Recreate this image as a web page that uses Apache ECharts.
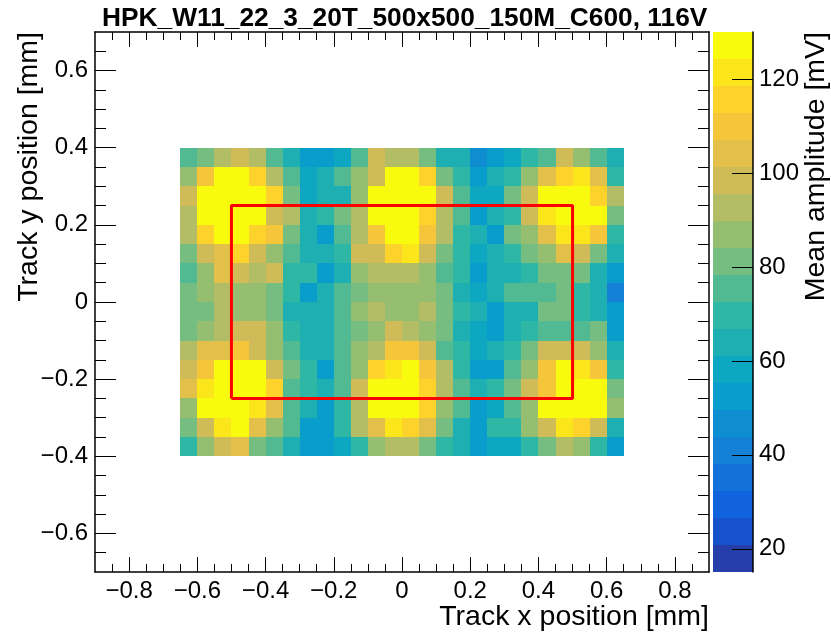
<!DOCTYPE html>
<html>
<head>
<meta charset="utf-8">
<script src="https://cdn.jsdelivr.net/npm/echarts@6/dist/echarts.min.js"></script>
<style>
  html, body { margin: 0; padding: 0; background: #fff; }
  #chart { width: 831px; height: 638px; }
</style>
</head>
<body>
<div id="chart"></div>
<script>
// histogram binning (mm)
const xLow = -0.65, yHigh = 0.4, binW = 0.05, binH = 0.05

// mean amplitude [mV], one row per y bin, top row first
const row00 = [75, 81, 93, 98, 93, 75, 64, 52, 52, 58, 75, 98, 93, 93, 81, 64, 64, 47, 52, 58, 70, 75, 98, 87, 75, 64]
const row01 = [87, 110, 127, 127, 116, 93, 75, 58, 64, 75, 87, 98, 127, 127, 116, 81, 70, 52, 64, 70, 87, 104, 116, 121, 104, 70]
const row02 = [98, 127, 127, 127, 127, 116, 81, 58, 64, 64, 87, 127, 127, 127, 127, 98, 75, 58, 58, 81, 98, 127, 127, 127, 116, 93]
const row03 = [93, 127, 127, 127, 127, 98, 93, 64, 70, 81, 93, 127, 127, 127, 116, 93, 75, 52, 64, 70, 98, 121, 127, 127, 127, 81]
const row04 = [93, 116, 127, 127, 116, 110, 81, 64, 52, 75, 93, 110, 127, 127, 110, 93, 70, 64, 52, 81, 87, 104, 121, 121, 110, 70]
const row05 = [81, 98, 104, 116, 98, 87, 75, 64, 64, 70, 98, 98, 116, 121, 98, 81, 70, 58, 64, 70, 81, 87, 104, 98, 81, 64]
const row06 = [75, 87, 104, 98, 93, 98, 70, 70, 52, 64, 87, 93, 93, 93, 87, 75, 70, 52, 64, 64, 70, 81, 81, 81, 64, 52]
const row07 = [81, 87, 93, 87, 87, 81, 70, 52, 64, 75, 81, 87, 87, 87, 87, 81, 64, 58, 64, 75, 75, 75, 81, 70, 64, 41]
const row08 = [81, 81, 93, 87, 87, 81, 64, 64, 64, 75, 87, 93, 87, 87, 93, 81, 70, 64, 52, 64, 64, 81, 81, 70, 64, 52]
const row09 = [81, 87, 93, 98, 98, 87, 70, 64, 64, 75, 81, 87, 98, 93, 87, 81, 64, 58, 52, 64, 70, 75, 75, 75, 81, 52]
const row10 = [93, 104, 104, 110, 98, 87, 75, 64, 64, 75, 87, 93, 110, 110, 98, 75, 70, 58, 64, 70, 81, 98, 98, 98, 87, 64]
const row11 = [98, 110, 127, 127, 127, 98, 81, 70, 52, 75, 87, 116, 121, 127, 110, 93, 70, 52, 52, 75, 87, 110, 127, 121, 110, 70]
const row12 = [104, 121, 127, 127, 127, 116, 75, 70, 64, 75, 98, 127, 127, 127, 116, 93, 75, 64, 70, 81, 98, 110, 127, 127, 127, 81]
const row13 = [87, 127, 127, 127, 121, 104, 75, 64, 52, 70, 93, 127, 127, 127, 116, 87, 75, 52, 58, 75, 87, 127, 127, 127, 127, 87]
const row14 = [81, 98, 121, 127, 104, 87, 75, 52, 52, 70, 93, 104, 121, 116, 104, 81, 64, 52, 70, 70, 87, 98, 121, 116, 98, 64]
const row15 = [70, 87, 98, 104, 81, 75, 64, 52, 52, 58, 70, 87, 93, 93, 81, 70, 64, 52, 58, 58, 70, 81, 93, 87, 70, 52]
const rows = [row00, row01, row02, row03, row04, row05, row06, row07,
              row08, row09, row10, row11, row12, row13, row14, row15]

// z range and contour levels of the colour scale
const zMin = 15.05, zMax = 130.05, nLevels = 20

// tick labels
const xTicks = [-0.8, -0.6, -0.4, -0.2, 0, 0.2, 0.4, 0.6, 0.8]
const yTicks = [-0.6, -0.4, -0.2, 0, 0.2, 0.4, 0.6]
const zTicks = [20, 40, 60, 80, 100, 120]

// sensor outline (red box)
const boxX = [-0.5, 0.5, 0.5, -0.5, -0.5]
const boxY = [-0.25, -0.25, 0.25, 0.25, -0.25]

// ROOT kBird palette
const birdStops = [0, 0.125, 0.25, 0.375, 0.5, 0.625, 0.75, 0.875, 1]
const birdR = [0.2082, 0.0592, 0.0780, 0.0232, 0.1802, 0.5301, 0.8186, 0.9956, 0.9764]
const birdG = [0.1664, 0.3599, 0.5041, 0.6419, 0.7178, 0.7492, 0.7328, 0.7862, 0.9832]
const birdB = [0.5293, 0.8684, 0.8385, 0.7914, 0.6425, 0.4662, 0.3499, 0.1968, 0.0539]

function bird(t) {
    let i = 0
    while (i < birdStops.length - 2 && t > birdStops[i + 1]) i++
    const f = (t - birdStops[i]) / (birdStops[i + 1] - birdStops[i])
    const c = arr => Math.round(255 * (arr[i] + f * (arr[i + 1] - arr[i])))
    return 'rgb(' + c(birdR) + ',' + c(birdG) + ',' + c(birdB) + ')'
}

const step = (zMax - zMin) / nLevels
const pieces = []
for (let i = 0; i < nLevels; i++) {
    pieces.push({
        gte: zMin + i * step,
        lt: i === nLevels - 1 ? zMax + 1 : zMin + (i + 1) * step,
        color: bird(Math.min(1, (i + 0.99) / nLevels))
    })
}

const cells = []
rows.forEach((row, r) => {
    row.forEach((v, c) => {
        cells.push([xLow + (c + 0.5) * binW, yHigh - (r + 0.5) * binH, v])
    })
})

const levels = []
for (let i = 0; i < nLevels; i++) {
    levels.push([0, zMin + i * step, zMin + (i + 0.5) * step])
}

const fontFamily = 'Liberation Sans, Arial, Helvetica, sans-serif'

function minorList(lo, hi, d) {
    const out = []
    for (let v = lo; v <= hi + 1e-9; v += d) out.push(+v.toFixed(3))
    return out
}

function fmt(v) {
    if (Math.abs(v) < 1e-9) return '0'
    const s = Math.abs(v).toFixed(1)
    return v < 0 ? '\u2212' + s : s
}

function axis(dim, pos, ticks, len, showLine, showLabels) {
    const range = dim === 'x' ? [-0.9, 0.9] : [-0.7, 0.7]
    return {
        type: 'value',
        gridIndex: 0,
        position: pos,
        min: range[0],
        max: range[1],
        z: 5,
        axisLine: { show: showLine, onZero: false, lineStyle: { color: '#000', width: 1.5 } },
        axisTick: { show: true, inside: true, length: len, customValues: ticks,
                    lineStyle: { color: '#000', width: 1 } },
        axisLabel: { show: showLabels, customValues: ticks, formatter: fmt, margin: 7,
                     color: '#000', fontSize: 24, fontFamily: fontFamily },
        splitLine: { show: false }
    }
}

const xMinor = minorList(-0.85, 0.85, 0.05)
const yMinor = minorList(-0.65, 0.65, 0.05)

const chart = echarts.init(document.getElementById('chart'))

const titleFont = '28.5px ' + fontFamily

chart.setOption({
    animation: false,
    backgroundColor: '#fff',
    textStyle: { fontFamily: fontFamily },
    title: {
        text: 'HPK_W11_22_3_20T_500x500_150M_C600, 116V',
        left: 97,
        top: 1,
        textStyle: { fontFamily: fontFamily, fontWeight: 'bold', fontSize: 26.3, color: '#000' }
    },
    grid: [
        { left: 95, right: 122, top: 32, bottom: 66 },
        { left: 713, width: 40, top: 32, bottom: 66 }
    ],
    xAxis: [
        axis('x', 'bottom', xTicks, 15, true, true),
        axis('x', 'bottom', xMinor, 8, false, false),
        axis('x', 'top', xTicks, 15, true, false),
        axis('x', 'top', xMinor, 8, false, false),
        { type: 'value', gridIndex: 1, min: 0, max: 1, show: false }
    ],
    yAxis: [
        axis('y', 'left', yTicks, 21, true, true),
        axis('y', 'left', yMinor, 11, false, false),
        axis('y', 'right', yTicks, 21, true, false),
        axis('y', 'right', yMinor, 11, false, false),
        {
            type: 'value',
            gridIndex: 1,
            position: 'right',
            min: zMin,
            max: zMax,
            z: 10,
            axisLine: { show: true, onZero: false, lineStyle: { color: '#000', width: 1.5 } },
            axisTick: { show: true, inside: true, length: 21, customValues: zTicks,
                        lineStyle: { color: '#000', width: 1 } },
            axisLabel: { customValues: zTicks, margin: 6, color: '#000', fontSize: 24,
                         fontFamily: fontFamily },
            splitLine: { show: false }
        }
    ],
    visualMap: {
        type: 'piecewise',
        show: false,
        dimension: 2,
        seriesIndex: [0, 2],
        pieces: pieces
    },
    graphic: [
        {
            type: 'text',
            x: 709,
            y: 617,
            style: {
                text: 'Track x position [mm]',
                fill: '#000',
                font: titleFont,
                textAlign: 'right',
                textVerticalAlign: 'middle'
            }
        },
        {
            type: 'text',
            x: 29,
            y: 32,
            rotation: Math.PI / 2,
            style: {
                text: 'Track y position [mm]',
                fill: '#000',
                font: titleFont,
                textAlign: 'right',
                textVerticalAlign: 'middle'
            }
        },
        {
            type: 'text',
            x: 816,
            y: 32,
            rotation: Math.PI / 2,
            style: {
                text: 'Mean amplitude [mV]',
                fill: '#000',
                font: titleFont,
                textAlign: 'right',
                textVerticalAlign: 'middle'
            }
        }
    ],
    series: [
        {
            type: 'custom',
            xAxisIndex: 0,
            yAxisIndex: 0,
            data: cells,
            encode: { x: 0, y: 1 },
            z: 2,
            renderItem: function (params, api) {
                const x = api.value(0), y = api.value(1)
                const p0 = api.coord([x - binW / 2, y + binH / 2])
                const p1 = api.coord([x + binW / 2, y - binH / 2])
                const x0 = Math.round(p0[0]), y0 = Math.round(p0[1])
                return {
                    type: 'rect',
                    shape: { x: x0, y: y0, width: Math.round(p1[0]) - x0, height: Math.round(p1[1]) - y0 },
                    style: { fill: api.visual('color') }
                }
            }
        },
        {
            type: 'line',
            xAxisIndex: 0,
            yAxisIndex: 0,
            data: boxX.map((x, i) => [x, boxY[i]]),
            symbol: 'none',
            z: 6,
            lineStyle: { color: '#ff0000', width: 3 }
        },
        {
            type: 'custom',
            xAxisIndex: 4,
            yAxisIndex: 4,
            data: levels,
            encode: { x: 0, y: 1 },
            z: 2,
            renderItem: function (params, api) {
                const lo = api.value(1)
                const p0 = api.coord([0, lo + step])
                const p1 = api.coord([1, lo])
                const x0 = Math.round(p0[0]), y0 = Math.round(p0[1])
                return {
                    type: 'rect',
                    shape: { x: x0, y: y0, width: Math.round(p1[0]) - x0, height: Math.round(p1[1]) - y0 },
                    style: { fill: api.visual('color') }
                }
            }
        }
    ]
})
</script>
</body>
</html>
